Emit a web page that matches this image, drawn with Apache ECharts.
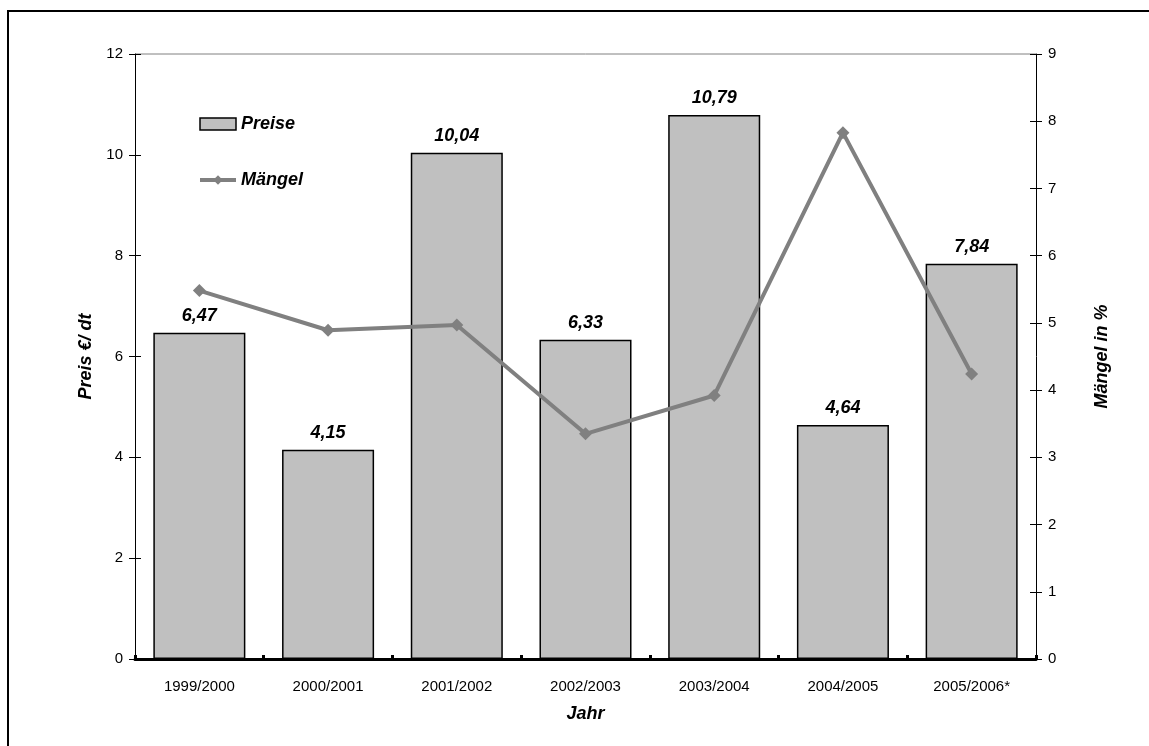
<!DOCTYPE html>
<html>
<head>
<meta charset="utf-8">
<script src="https://cdn.jsdelivr.net/npm/echarts@6/dist/echarts.min.js"></script>
<style>
  html, body { margin: 0; padding: 0; background: #fff; }
  #chart { width: 1149px; height: 746px; }
</style>
</head>
<body>
<div id="chart"></div>
<script>
// Wirtschaftsjahre
const jahre = ['1999/2000', '2000/2001', '2001/2002', '2002/2003', '2003/2004', '2004/2005', '2005/2006*'];
// Preise in €/dt
const preise = [6.47, 4.15, 10.04, 6.33, 10.79, 4.64, 7.84];
// Mängel in %
const maengel = [5.48, 4.89, 4.97, 3.35, 3.92, 7.83, 4.24];

const FONT = '"Liberation Sans", Arial, sans-serif';
const chart = echarts.init(document.getElementById('chart'));

const fmt = v => v.toFixed(2).replace('.', ',');
const boldItalic = { fontFamily: FONT, fontSize: 18, fontWeight: 'bold', fontStyle: 'italic', color: '#000' };

// zweite Achse je Seite nur für die nach innen zeigenden Teilstriche
const tickOnly = {
  axisLine: { show: false },
  axisLabel: { show: false },
  splitLine: { show: false },
  axisTick: { show: true, inside: true, length: 6, lineStyle: { color: '#000', width: 1 } }
};

chart.setOption({
  backgroundColor: '#fff',
  animation: false,
  graphic: [{
    type: 'rect',
    shape: { x: 8, y: 11, width: 1160, height: 760 },
    style: { fill: 'none', stroke: '#000', lineWidth: 2 },
    silent: true
  }, {
    // obere Rahmenlinie der Zeichenfläche
    type: 'line',
    shape: { x1: 135, y1: 54, x2: 1036, y2: 54 },
    style: { stroke: '#808080', lineWidth: 1 },
    z: 0
  }],
  grid: { left: 135, right: 113, top: 54, bottom: 87, containLabel: false },
  legend: {
    orient: 'vertical',
    left: 193,
    top: 110,
    itemGap: 38,
    itemWidth: 36,
    itemHeight: 12,
    textStyle: boldItalic,
    data: [
      { name: 'Preise', icon: 'rect', itemStyle: { color: '#c0c0c0', borderColor: '#000', borderWidth: 1.5 } },
      { name: 'Mängel', lineStyle: { color: '#808080', width: 4 }, itemStyle: { color: '#808080' } }
    ]
  },
  xAxis: {
    type: 'category',
    data: jahre,
    name: 'Jahr',
    nameLocation: 'middle',
    nameGap: 46,
    nameTextStyle: boldItalic,
    axisLine: { lineStyle: { color: '#000', width: 3 } },
    axisTick: { show: true, inside: true, length: 4, lineStyle: { color: '#000', width: 3 } },
    axisLabel: { fontFamily: FONT, fontSize: 15, color: '#000', margin: 20 },
    splitLine: { show: false }
  },
  yAxis: [{
    type: 'value',
    position: 'left',
    min: 0, max: 12, interval: 2,
    name: 'Preis €/ dt',
    nameLocation: 'middle',
    nameGap: 35,
    nameRotate: 90,
    nameTextStyle: boldItalic,
    axisLine: { show: true, lineStyle: { color: '#000', width: 1 } },
    axisTick: { show: true, length: 6, lineStyle: { color: '#000', width: 1 } },
    axisLabel: { fontFamily: FONT, fontSize: 15, color: '#000', margin: 12 },
    splitLine: { show: false }
  }, {
    type: 'value',
    position: 'right',
    min: 0, max: 9, interval: 1,
    name: 'Mängel in %',
    nameLocation: 'middle',
    nameGap: 57,
    nameRotate: 90,
    nameTextStyle: boldItalic,
    axisLine: { show: true, lineStyle: { color: '#000', width: 1 } },
    axisTick: { show: true, length: 6, lineStyle: { color: '#000', width: 1 } },
    axisLabel: { fontFamily: FONT, fontSize: 15, color: '#000', margin: 12 },
    splitLine: { show: false }
  }, Object.assign({
    type: 'value', position: 'left', min: 0, max: 12, interval: 2
  }, tickOnly), Object.assign({
    type: 'value', position: 'right', min: 0, max: 9, interval: 1
  }, tickOnly)],
  series: [{
    name: 'Preise',
    type: 'bar',
    yAxisIndex: 0,
    data: preise,
    barWidth: '71.5%',
    itemStyle: { color: '#c0c0c0', borderColor: '#000', borderWidth: 1.5 },
    label: Object.assign({
      show: true,
      position: 'top',
      distance: 8,
      formatter: p => fmt(p.value)
    }, boldItalic),
    z: 2
  }, {
    name: 'Mängel',
    type: 'line',
    yAxisIndex: 1,
    data: maengel,
    symbol: 'diamond',
    symbolSize: 13,
    lineStyle: { color: '#808080', width: 4 },
    itemStyle: { color: '#808080' },
    z: 3
  }]
});
</script>
</body>
</html>
